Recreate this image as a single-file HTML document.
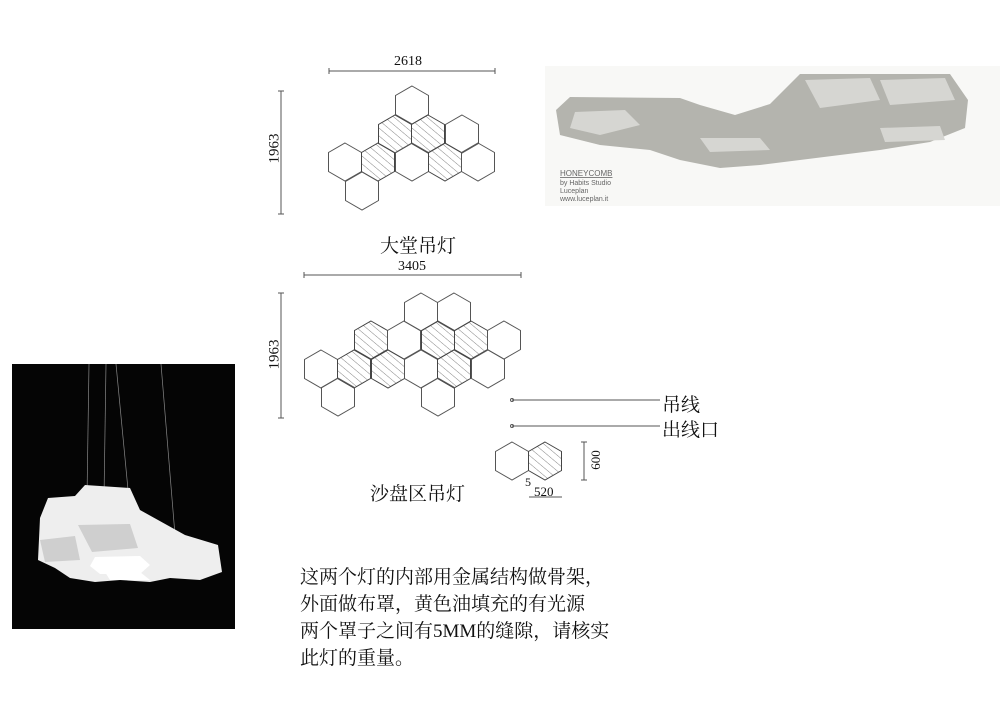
<!DOCTYPE html>
<html><head><meta charset="utf-8"><style>
body{margin:0;background:#fff;width:1000px;height:701px;overflow:hidden;position:relative;font-family:"Liberation Serif","Noto Serif CJK SC",serif}
.t{position:absolute;color:#111;white-space:nowrap}
</style></head><body>
<svg width="1000" height="701" style="position:absolute;left:0;top:0">
<defs>
<pattern id="hat" patternUnits="userSpaceOnUse" width="6" height="6" patternTransform="rotate(-50)">
<line x1="0" y1="0" x2="0" y2="6" stroke="#666" stroke-width="0.8"/></pattern>
<polygon id="h" points="0,-19 16.5,-9.5 16.5,9.5 0,19 -16.5,9.5 -16.5,-9.5" fill="none" stroke="#555" stroke-width="1"/>
<polygon id="hh" points="0,-19 16.5,-9.5 16.5,9.5 0,19 -16.5,9.5 -16.5,-9.5" fill="url(#hat)" stroke="#444" stroke-width="1"/>
</defs>
<g stroke="#555" stroke-width="1">
<line x1="329" y1="71" x2="495" y2="71"/><line x1="329" y1="68" x2="329" y2="74"/><line x1="495" y1="68" x2="495" y2="74"/>
<line x1="281" y1="91" x2="281" y2="214"/><line x1="278" y1="91" x2="284" y2="91"/><line x1="278" y1="214" x2="284" y2="214"/>
<line x1="304" y1="275" x2="521" y2="275"/><line x1="304" y1="272" x2="304" y2="278"/><line x1="521" y1="272" x2="521" y2="278"/>
<line x1="281" y1="293" x2="281" y2="418"/><line x1="278" y1="293" x2="284" y2="293"/><line x1="278" y1="418" x2="284" y2="418"/>
<line x1="512" y1="400" x2="660" y2="400"/><line x1="512" y1="426" x2="660" y2="426"/>
<line x1="584" y1="442" x2="584" y2="480"/><line x1="581" y1="442" x2="587" y2="442"/><line x1="581" y1="480" x2="587" y2="480"/>
<line x1="529" y1="497" x2="562" y2="497"/>
</g>
<circle cx="512" cy="400" r="1.5" fill="none" stroke="#555"/><circle cx="512" cy="426" r="1.5" fill="none" stroke="#555"/>
<use href="#h" x="412" y="105"/>
<use href="#hh" x="395" y="134"/><use href="#hh" x="428" y="134"/><use href="#h" x="462" y="134"/>
<use href="#h" x="345" y="162"/><use href="#hh" x="378" y="162"/><use href="#h" x="412" y="162"/><use href="#hh" x="445" y="162"/><use href="#h" x="478" y="162"/>
<use href="#h" x="362" y="191"/>
<use href="#h" x="421" y="312"/><use href="#h" x="454" y="312"/>
<use href="#hh" x="371" y="340"/><use href="#h" x="404" y="340"/><use href="#hh" x="438" y="340"/><use href="#hh" x="471" y="340"/><use href="#h" x="504" y="340"/>
<use href="#h" x="321" y="369"/><use href="#hh" x="354" y="369"/><use href="#hh" x="388" y="369"/><use href="#h" x="421" y="369"/><use href="#hh" x="454" y="369"/><use href="#h" x="488" y="369"/>
<use href="#h" x="338" y="397"/><use href="#h" x="438" y="397"/>
<use href="#h" x="512" y="461"/><use href="#hh" x="545" y="461"/>
<!-- top photo -->
<rect x="545" y="66" width="455" height="140" fill="#f8f8f6"/>
<g fill="#b4b4ae">
<path d="M556 110 L570 97 L680 98 L700 105 L735 115 L770 104 L800 74 L950 74 L968 100 L965 128 L930 142 L880 150 L800 160 L760 165 L720 168 L680 160 L650 150 L600 145 L560 135 Z"/>
</g>
<g fill="#d6d6d2"><path d="M575 112 L625 110 L640 125 L600 135 L570 128 Z"/><path d="M805 80 L870 78 L880 100 L820 108 Z"/><path d="M880 80 L945 78 L955 100 L890 105 Z"/><path d="M700 138 L760 138 L770 150 L710 152 Z"/><path d="M880 128 L940 126 L945 140 L885 142 Z"/></g>
<text x="560" y="176" font-family="Liberation Sans" font-size="8" fill="#666" text-decoration="underline">HONEYCOMB</text>
<text x="560" y="185" font-family="Liberation Sans" font-size="7" fill="#666">by Habits Studio</text>
<text x="560" y="193" font-family="Liberation Sans" font-size="7" fill="#666">Luceplan</text>
<text x="560" y="201" font-family="Liberation Sans" font-size="7" fill="#666">www.luceplan.it</text>
<!-- left photo -->
<rect x="12" y="364" width="223" height="265" fill="#050505"/>
<g stroke="#888" stroke-width="0.7"><line x1="89" y1="364" x2="87" y2="497"/><line x1="106" y1="364" x2="104" y2="498"/><line x1="116" y1="364" x2="129" y2="500"/><line x1="161" y1="364" x2="175" y2="535"/></g>
<g fill="#eeeeee">
<path d="M40 518 L48 498 L75 496 L85 485 L130 488 L140 510 L185 535 L218 545 L222 572 L200 580 L170 578 L150 582 L120 580 L95 582 L70 578 L55 568 L38 560 Z"/>
</g>
<g fill="#fff"><path d="M95 557 L140 556 L150 565 L140 574 L100 574 L90 566 Z"/><path d="M105 572 L140 572 L150 580 L110 580 Z"/></g>
<g fill="#cfcfcf"><path d="M78 525 L130 524 L138 548 L92 552 Z"/><path d="M40 540 L75 536 L80 560 L45 562 Z"/></g>
</svg>
<div class="t" style="left:394px;top:54px;font-size:14px">2618</div>
<div class="t" style="left:260px;top:140px;font-size:15px;transform:rotate(-90deg)">1963</div>
<div class="t" style="left:380px;top:231px;font-size:19px">大堂吊灯</div>
<div class="t" style="left:398px;top:259px;font-size:14px">3405</div>
<div class="t" style="left:260px;top:346px;font-size:15px;transform:rotate(-90deg)">1963</div>
<div class="t" style="left:662px;top:390px;font-size:19px">吊线</div>
<div class="t" style="left:662px;top:415px;font-size:19px">出线口</div>
<div class="t" style="left:586px;top:452px;font-size:13px;transform:rotate(-90deg);transform-origin:center">600</div>
<div class="t" style="left:525px;top:475px;font-size:12px">5</div>
<div class="t" style="left:534px;top:484px;font-size:13px">520</div>
<div class="t" style="left:370px;top:479px;font-size:19px">沙盘区吊灯</div>
<div class="t" style="left:300px;top:564px;font-size:19px;line-height:27px">这两个灯的内部用金属结构做骨架，<br>外面做布罩，黄色油填充的有光源<br>两个罩子之间有5MM的缝隙，请核实<br>此灯的重量。</div>
</body></html>
